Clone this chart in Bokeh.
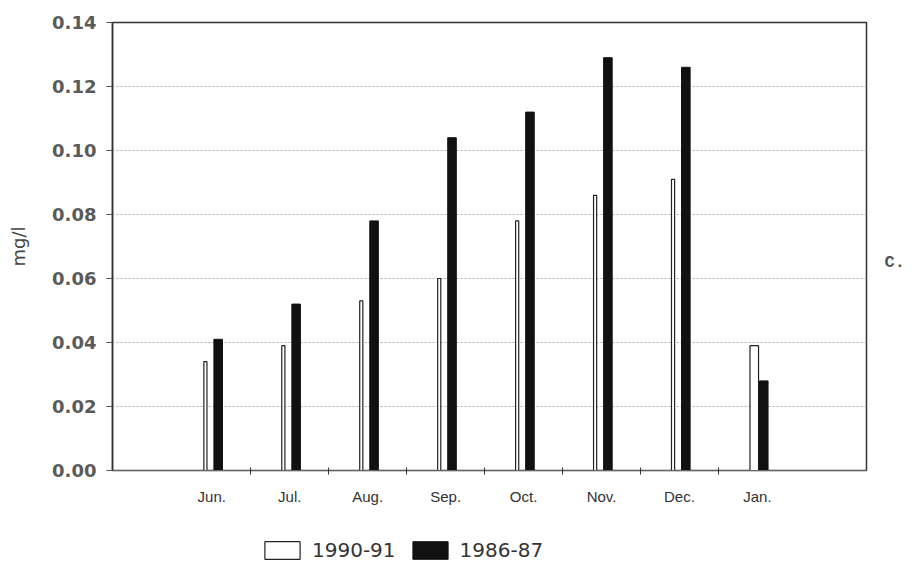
from bokeh.plotting import figure
from bokeh.layouts import column
from bokeh.models import (Range1d, FixedTicker, PrintfTickFormatter, Legend, LegendItem,
                          LinearAxis, ColumnDataSource)
from bokeh.embed import file_html
from bokeh.resources import INLINE

# ---- data ----
months = ["Jun.", "Jul.", "Aug.", "Sep.", "Oct.", "Nov.", "Dec.", "Jan."]
conc_1990_91 = [0.034, 0.039, 0.053, 0.060, 0.078, 0.086, 0.091, 0.039]
conc_1986_87 = [0.041, 0.052, 0.078, 0.104, 0.112, 0.129, 0.126, 0.028]
y_ticks = [0.00, 0.02, 0.04, 0.06, 0.08, 0.10, 0.12, 0.14]
series_names = ["1990-91", "1986-87"]
panel_tag = "C."
panel_tag_y = 0.065

# ---- style (positions/sizes) ----
white_offset = [-0.082] * 7 + [-0.04]
white_width = [0.04] * 7 + [0.11]
black_offset = 0.082
black_width = 0.11
WHITE_STYLE = dict(fill_color="white", line_color="#222222", line_width=1.2)
BLACK_STYLE = dict(fill_color="#111111", line_color="#111111", line_width=1)

idx = list(range(len(months)))
src_w = ColumnDataSource(dict(x=[i + o for i, o in zip(idx, white_offset)],
                              top=conc_1990_91, w=white_width))
src_b = ColumnDataSource(dict(x=[i + black_offset for i in idx], top=conc_1986_87))

p = figure(width=907, height=515, output_backend="svg", toolbar_location=None,
           x_range=Range1d(-1.274, 8.40), y_range=Range1d(0, 0.14),
           min_border_left=112, min_border_right=32, min_border_top=22,
           min_border_bottom=45)

rw = p.vbar(x="x", top="top", width="w", bottom=0, source=src_w, **WHITE_STYLE)
rb = p.vbar(x="x", top="top", width=black_width, bottom=0, source=src_b, **BLACK_STYLE)

# x axis
p.xaxis.ticker = FixedTicker(ticks=idx, minor_ticks=[i + 0.5 for i in idx[:-1]])
p.xaxis.major_label_overrides = {i: m for i, m in zip(idx, months)}
p.xaxis.major_tick_out = 0
p.xaxis.major_tick_in = 0
p.xaxis.minor_tick_out = 4
p.xaxis.minor_tick_in = 3
p.xaxis.minor_tick_line_color = "#333333"
p.xaxis.axis_line_color = "#666666"
p.xaxis.axis_line_width = 1.2
p.xaxis.major_label_text_font = "Liberation Sans"
p.xaxis.major_label_text_font_size = "15px"
p.xaxis.major_label_text_color = "#333333"
p.xaxis.major_label_standoff = 13

# y axis
p.yaxis.ticker = FixedTicker(ticks=y_ticks)
p.yaxis.formatter = PrintfTickFormatter(format="%.2f")
p.yaxis.major_tick_out = 6
p.yaxis.major_tick_in = 0
p.yaxis.minor_tick_out = 0
p.yaxis.minor_tick_in = 0
p.yaxis.axis_line_color = "#333333"
p.yaxis.axis_line_width = 1.5
p.yaxis.major_tick_line_color = "#555555"
p.yaxis.major_label_text_font = "DejaVu Sans"
p.yaxis.major_label_text_font_size = "18px"
p.yaxis.major_label_text_font_style = "bold"
p.yaxis.major_label_text_color = "#5a5a5a"
p.yaxis.major_label_standoff = 10
p.yaxis.axis_label = "mg/l"
p.yaxis.axis_label_text_font = "DejaVu Sans"
p.yaxis.axis_label_text_font_size = "18px"
p.yaxis.axis_label_text_font_style = "normal"
p.yaxis.axis_label_text_color = "#444444"
p.yaxis.axis_label_standoff = 20

# right-side panel tag "C."
tag_axis = LinearAxis(ticker=FixedTicker(ticks=[panel_tag_y]),
                      major_label_overrides={panel_tag_y: panel_tag},
                      axis_line_color=None, major_tick_line_color=None,
                      minor_tick_line_color=None, major_label_standoff=12,
                      major_label_text_font="Liberation Mono",
                      major_label_text_font_size="17px",
                      major_label_text_font_style="bold",
                      major_label_text_color="#555555")
p.add_layout(tag_axis, "right")

p.xgrid.visible = False
p.ygrid.grid_line_color = "#aaaaaa"
p.ygrid.grid_line_dash = "2 2"
p.ygrid.grid_line_width = 1

p.outline_line_color = "#333333"
p.outline_line_width = 1.5
p.background_fill_color = "white"
p.border_fill_color = "white"

# ---- legend strip underneath (same sources, drawn off-range so only the legend shows) ----
q = figure(width=907, height=47, output_backend="svg", toolbar_location=None,
           x_range=Range1d(100, 101), y_range=Range1d(100, 101), min_border=0,
           x_axis_location=None, y_axis_location=None)
q.grid.visible = False
q.outline_line_color = None
lw = q.vbar(x="x", top="top", width="w", bottom=0, source=src_w, **WHITE_STYLE)
lb = q.vbar(x="x", top="top", width=black_width, bottom=0, source=src_b, **BLACK_STYLE)
legend = Legend(items=[LegendItem(label=series_names[0], renderers=[lw], index=0),
                       LegendItem(label=series_names[1], renderers=[lb], index=0)],
                orientation="horizontal", location=(148, 0),
                glyph_width=44, glyph_height=22, label_text_font="DejaVu Sans",
                label_text_font_size="20px", label_text_color="#333333",
                padding=0, margin=0, spacing=12, label_standoff=8,
                border_line_color=None, background_fill_alpha=0)
q.add_layout(legend, "center")

open("out.html", "w").write(file_html(column(p, q, spacing=0), INLINE))
